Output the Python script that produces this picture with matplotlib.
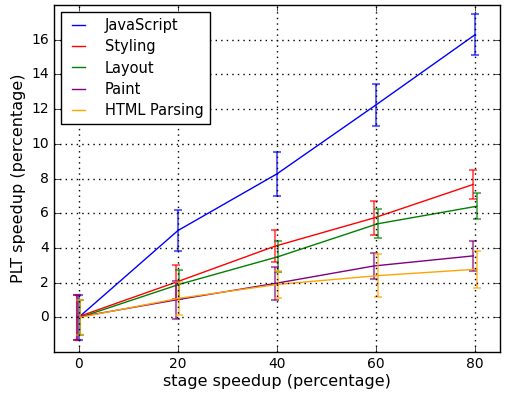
import numpy as np
import matplotlib
matplotlib.use('Agg')
import matplotlib.pyplot as plt

plt.style.use('classic')

# speedup levels (percentage)
stages = [0, 20, 40, 60, 80]

js = [0.0, 5.0, 8.27, 12.25, 16.3]
js_err = [1.3, 1.2, 1.28, 1.2, 1.16]

styling = [0.0, 2.02, 4.1, 5.73, 7.66]
styling_err = [1.3, 0.98, 0.92, 1.0, 0.84]

layout = [0.0, 1.9, 3.5, 5.39, 6.4]
layout_err = [1.0, 0.85, 0.87, 0.84, 0.75]

paint = [0.0, 1.0, 1.95, 2.96, 3.54]
paint_err = [1.3, 1.1, 0.95, 0.76, 0.87]

html = [0.0, 1.1, 1.9, 2.4, 2.77]
html_err = [1.0, 0.95, 0.77, 1.22, 1.06]

series = [
    ("JavaScript", js, js_err, 'b', 0.0),
    ("Styling", styling, styling_err, 'r', -0.4),
    ("Layout", layout, layout_err, 'g', 0.3),
    ("Paint", paint, paint_err, 'purple', -0.4),
    ("HTML Parsing", html, html_err, 'orange', 0.3),
]

fig = plt.figure(figsize=(5.05, 3.95), dpi=100, facecolor='white')
ax = fig.add_axes([0.107, 0.109, 0.883, 0.878])

for name, vals, err, col, off in series:
    x = np.array(stages) + off
    ax.plot(x, vals, color=col, lw=1, label=name)
    ax.errorbar(x, vals, yerr=err, fmt='none', ecolor=col, elinewidth=1.5,
                capsize=3, capthick=1.5, alpha=0.6)

ax.set_xlim(-5, 85)
ax.set_ylim(-2, 18)
ax.set_xticks([0, 20, 40, 60, 80])
ax.set_yticks([0, 2, 4, 6, 8, 10, 12, 14, 16])
ax.grid(True, color='black', linestyle=':', linewidth=1)
ax.set_xlabel('stage speedup (percentage)', fontsize=11.5, labelpad=2)
ax.set_ylabel('PLT speedup (percentage)', fontsize=11.5, labelpad=4)
ax.tick_params(labelsize=10, pad=3.5)
ax.legend(loc='upper left', fontsize=10.5, handlelength=1.5,
          handletextpad=1.1, labelspacing=0.42, borderaxespad=0.5)

fig.savefig('out.png', dpi=100, facecolor='white')
